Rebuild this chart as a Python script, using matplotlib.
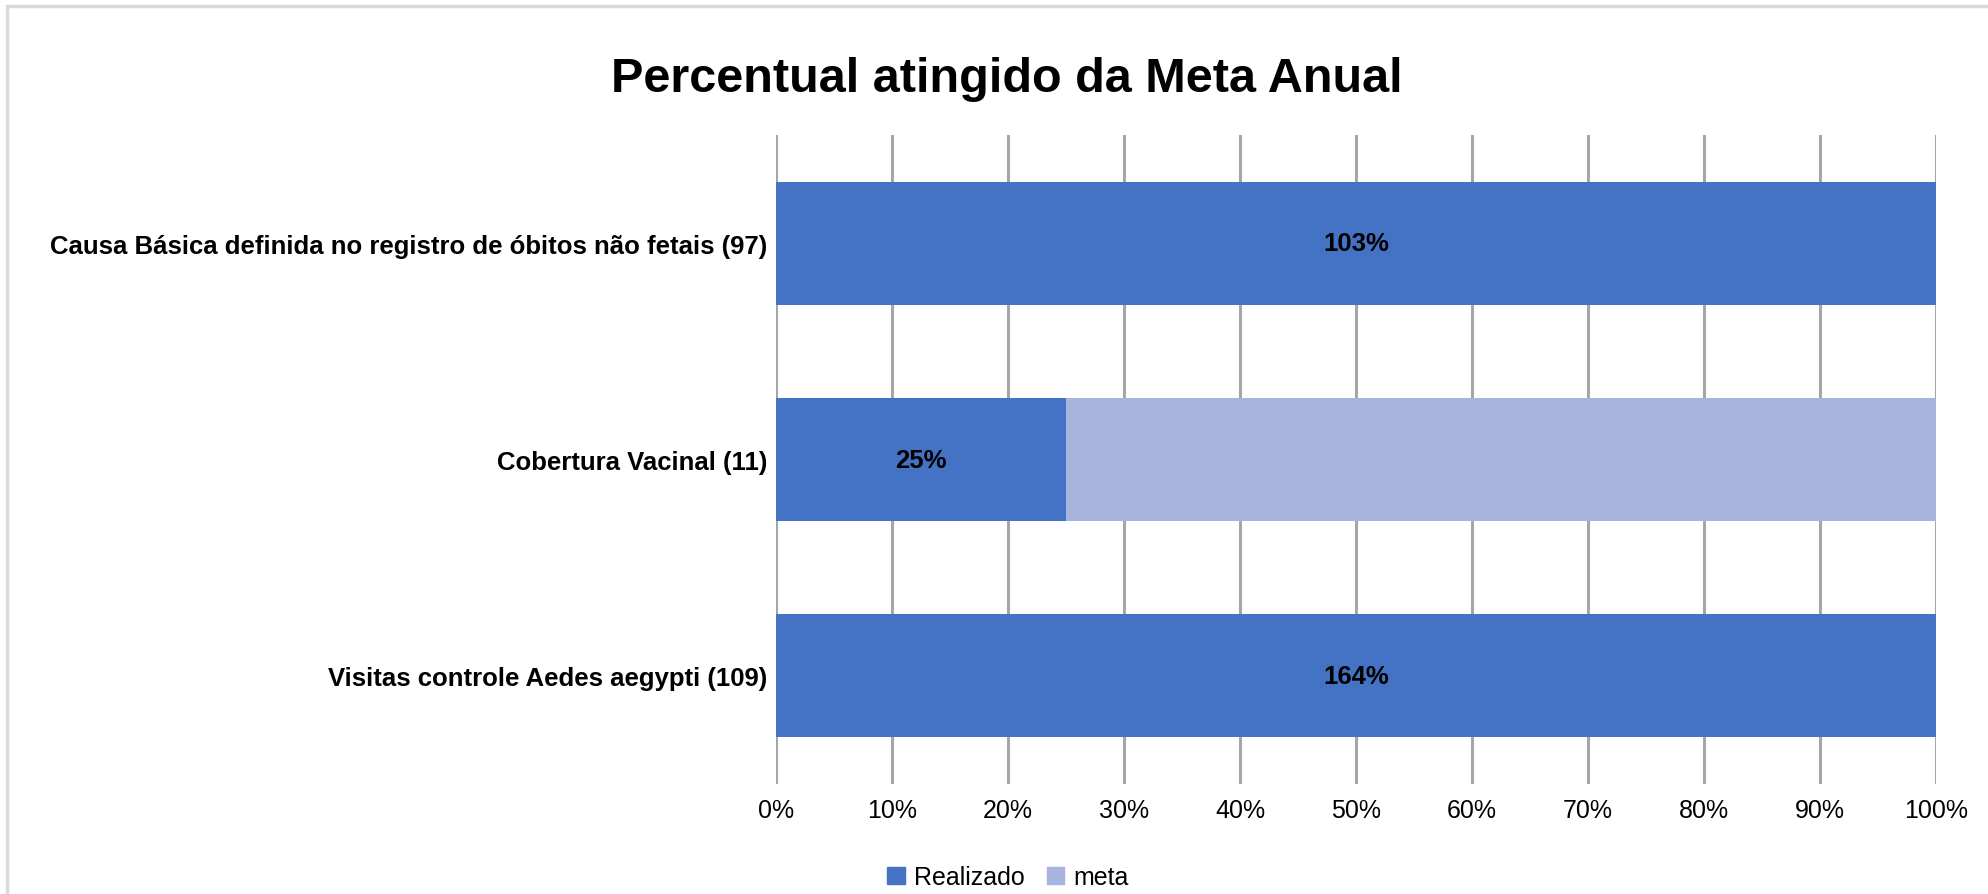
import matplotlib
matplotlib.use("Agg")
import matplotlib.pyplot as plt
import matplotlib.ticker as ticker
from matplotlib.patches import Rectangle, Patch
import numpy as np

# dados
categorias = [
    "Causa Básica definida no registro de óbitos não fetais (97)",
    "Cobertura Vacinal (11)",
    "Visitas controle Aedes aegypti (109)",
]
realizado = [103, 25, 164]          # % atingido da meta
meta = [0, 75, 0]                   # parte que falta para 100%
rotulos = ["103%", "25%", "164%"]
ticks_x = [0, 10, 20, 30, 40, 50, 60, 70, 80, 90, 100]

COR_REAL = "#4472C4"
COR_META = "#A9B4DC"
COR_GRADE = "#A6A6A6"

plt.rcParams["font.family"] = ["Liberation Sans", "DejaVu Sans"]

fig = plt.figure(figsize=(19.88, 8.95), dpi=100)
ax = fig.add_axes([776 / 1988, 110 / 895, 1160 / 1988, 649 / 895])

# 100% empilhado: cada linha normalizada pelo total
real = np.array(realizado, dtype=float)
falta = np.array(meta, dtype=float)
total = real + falta
pct_real = real / total * 100
pct_meta = falta / total * 100

y = np.arange(len(categorias))
altura = 0.57
ax.barh(y, pct_real, height=altura, color=COR_REAL, zorder=3)
ax.barh(y, pct_meta, left=pct_real, height=altura, color=COR_META, zorder=3)

for yi, largura, txt in zip(y, pct_real, rotulos):
    ax.text(largura / 2, yi, txt, ha="center", va="center",
            fontsize=18.5, fontweight="bold", color="black", zorder=4)

ax.set_xlim(0, 100)
ax.set_ylim(len(categorias) - 0.5, -0.5)
ax.set_xticks(ticks_x)
ax.xaxis.set_major_formatter(ticker.FuncFormatter(lambda v, p: f"{v:.0f}%"))
ax.set_yticks(y)
ax.set_yticklabels(categorias, fontsize=18.5, fontweight="bold")
ax.tick_params(axis="x", length=0, pad=10, labelsize=18)
ax.tick_params(axis="y", length=0, pad=6)

for xv in ticks_x:
    ax.axvline(xv, color=COR_GRADE, linewidth=2.2, zorder=1)

for s in ax.spines.values():
    s.set_visible(False)

fig.suptitle("Percentual atingido da Meta Anual", x=1007 / 1988, y=1 - 80 / 895,
             va="center", fontsize=35, fontweight="bold")

leg = fig.legend(
    handles=[Patch(color=COR_REAL, label="Realizado"), Patch(color=COR_META, label="meta")],
    loc="center", bbox_to_anchor=(1008 / 1988, 1 - 878 / 895), ncol=2, frameon=False,
    fontsize=18, handlelength=0.7, handleheight=0.7, handletextpad=0.35, columnspacing=0.9,
)

# borda cinza clara (topo e esquerda)
fig.add_artist(Rectangle((7 / 1988, -0.5), 2.0, 0.5 + (895 - 7) / 895, transform=fig.transFigure,
                         fill=False, edgecolor="#D9D9D9", linewidth=2.5))

fig.savefig("out.png", dpi=100, facecolor="white")
